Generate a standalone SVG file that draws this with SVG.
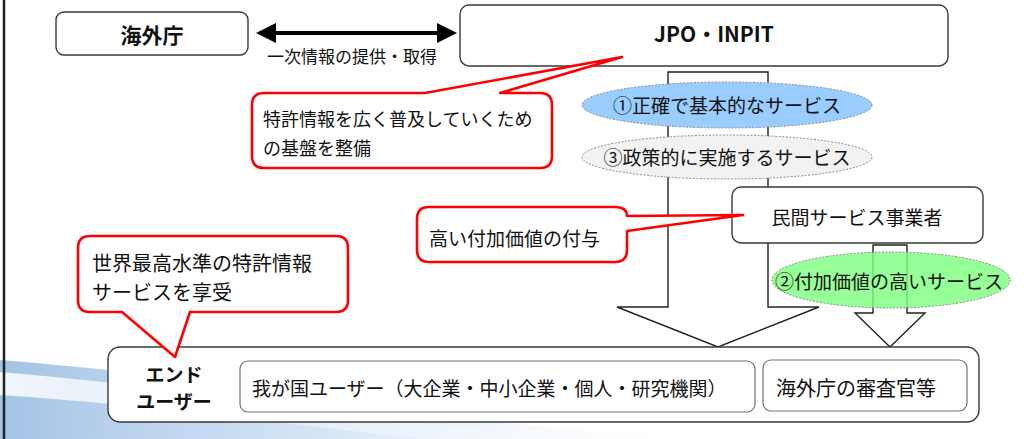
<svg xmlns="http://www.w3.org/2000/svg" width="1033" height="439" viewBox="0 0 1033 439">
<defs>
<linearGradient id="swoosh" x1="0" y1="0" x2="1" y2="0">
<stop offset="0" stop-color="#9fc0e4" stop-opacity="0.95"/>
<stop offset="0.45" stop-color="#c4d9f0" stop-opacity="0.7"/>
<stop offset="1" stop-color="#ffffff" stop-opacity="0"/>
</linearGradient>
<linearGradient id="streak" x1="0" y1="0" x2="1" y2="0">
<stop offset="0" stop-color="#ffffff" stop-opacity="0.85"/>
<stop offset="1" stop-color="#ffffff" stop-opacity="0"/>
</linearGradient>
<style>
text{font-family:"Noto Sans CJK JP","Noto Sans",sans-serif;fill:#111;dominant-baseline:central}
.box{fill:#fff;stroke:#3a3a3a;stroke-width:1.4}
.inner{fill:#fff;stroke:#707070;stroke-width:1.2}
.callout{fill:#fff;stroke:#ff0000;stroke-width:2.6;stroke-linejoin:round}
.hollow{fill:#fff;stroke:#222;stroke-width:1.4;stroke-linejoin:miter}
.ell{stroke:#8a8a8a;stroke-width:1;stroke-dasharray:2 1.5}
.b{font-weight:bold}
</style>
</defs>

<!-- background decoration -->
<path d="M0,360 C150,372 320,395 470,418 C560,430 640,436 720,439 L0,439 Z" fill="url(#swoosh)"/>
<path d="M0,372 C140,384 300,404 430,424 C500,432 560,436 620,439 L420,439 C300,425 150,405 0,395 Z" fill="url(#streak)"/>
<line x1="4" y1="0" x2="4" y2="439" stroke="#222" stroke-width="2.5"/>

<g id="connectors">
<path class="hollow" d="M668,72 H768 V307 H819 L718,347 L617,307 H668 Z"/>
<path class="hollow" d="M873,245 H907 V313 H925 L890,347 L855,313 H873 Z"/>
<line x1="272" y1="33" x2="441" y2="33" stroke="#000" stroke-width="4"/>
<polygon points="256,33 276,23 276,43" fill="#000"/>
<polygon points="457,33 437,23 437,43" fill="#000"/>
</g>

<g id="kaigaicho">
<rect class="box" x="56" y="12" width="192" height="43" rx="8"/>
<text class="b" x="152" y="34" font-size="21" text-anchor="middle">海外庁</text>
</g>

<text id="label-exchange" x="352" y="55" font-size="17" text-anchor="middle">一次情報の提供・取得</text>

<g id="jpo">
<rect class="box" x="460" y="5" width="488" height="61" rx="9"/>
<text class="b" x="714" y="33" font-size="21" text-anchor="middle">JPO・INPIT</text>
</g>

<g id="service1">
<ellipse class="ell" cx="727" cy="105" rx="145" ry="23" fill="#99ccff"/>
<text x="727" y="104" font-size="19" text-anchor="middle">①正確で基本的なサービス</text>
</g>

<g id="service3">
<ellipse class="ell" cx="727" cy="157" rx="145" ry="22" fill="#f2f2f2"/>
<text x="727" y="156" font-size="19" text-anchor="middle">③政策的に実施するサービス</text>
</g>

<g id="private">
<rect class="box" x="732" y="187" width="251" height="56" rx="9"/>
<text x="857" y="216" font-size="19" text-anchor="middle">民間サービス事業者</text>
</g>

<g id="service2">
<ellipse class="ell" cx="891" cy="280" rx="119" ry="28" fill="#80ff80" fill-opacity="0.82"/>
<text x="889" y="280" font-size="19" text-anchor="middle">②付加価値の高いサービス</text>
</g>

<g id="enduser">
<rect class="box" x="108" y="347" width="871" height="75" rx="12"/>
<text class="b" x="174" y="373" font-size="19" text-anchor="middle">エンド</text>
<text class="b" x="174" y="400" font-size="19" text-anchor="middle">ユーザー</text>
<rect class="inner" x="240" y="361" width="515" height="51" rx="8"/>
<text x="252" y="387" font-size="19">我が国ユーザー（大企業・中小企業・個人・研究機関）</text>
<rect class="inner" x="763" y="360" width="204" height="51" rx="8"/>
<text x="776" y="387" font-size="20">海外庁の審査官等</text>
</g>

<g id="callout-foundation">
<path class="callout" d="M264,93 H425 L622,57 L500,93 H540 Q552,93 552,105 V156 Q552,168 540,168 H264 Q252,168 252,156 V105 Q252,93 264,93 Z"/>
<text x="263" y="118" font-size="18">特許情報を広く普及していくため</text>
<text x="263" y="147" font-size="18">の基盤を整備</text>
</g>

<g id="callout-value">
<path class="callout" d="M429,207 H615 Q627,207 627,216 L743,215 L627,231 V250 Q627,262 615,262 H429 Q417,262 417,250 V219 Q417,207 429,207 Z"/>
<text x="429" y="237" font-size="19">高い付加価値の付与</text>
</g>

<g id="callout-world">
<path class="callout" d="M90,236 H336 Q348,236 348,248 V300 Q348,312 336,312 H190 L175,357 L122,312 H90 Q78,312 78,300 V248 Q78,236 90,236 Z"/>
<text x="92" y="262" font-size="20">世界最高水準の特許情報</text>
<text x="92" y="291" font-size="20">サービスを享受</text>
</g>
</svg>
